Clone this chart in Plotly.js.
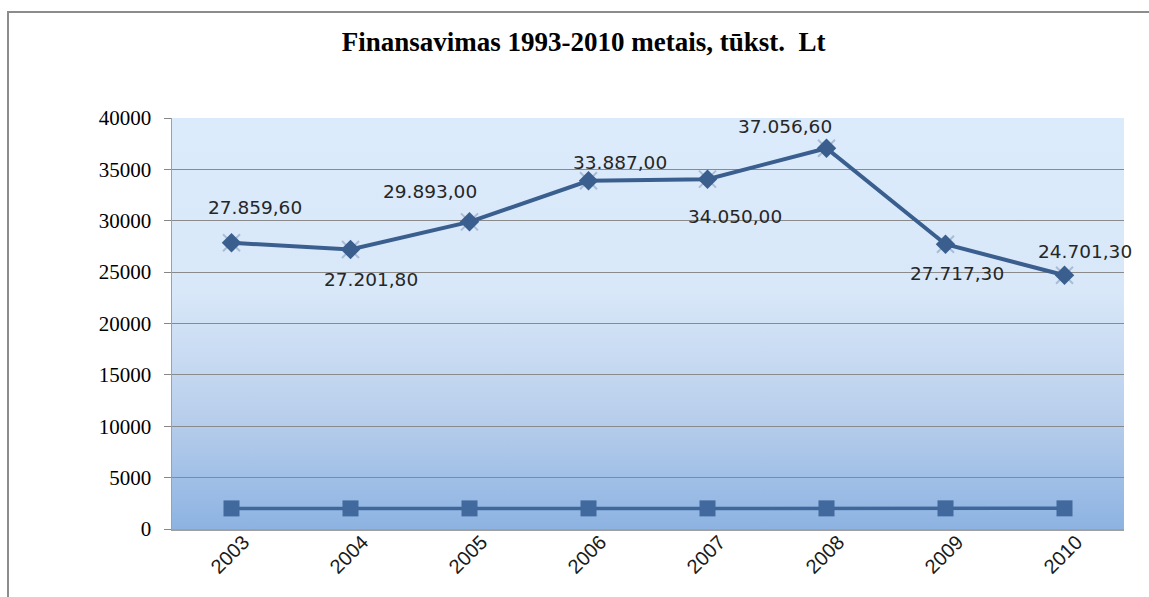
<!DOCTYPE html>
<html>
<head>
<meta charset="utf-8">
<script src="https://cdn.plot.ly/plotly-3.0.1.min.js"></script>
<style>
  html, body { margin: 0; padding: 0; background: #ffffff; }
  #bg { position: absolute; left: 172px; top: 118px; width: 952px; height: 411px;
        background: linear-gradient(to bottom, #dcebfb 0%, #d9e8f9 42%, #b9cfec 72%, #8db3e2 100%); }
  #chart { position: absolute; left: 0; top: 0; width: 1149px; height: 597px; }
  #frame { position: absolute; left: 7px; top: 11px; width: 1200px; height: 700px;
           border-left: 2px solid #8c8c8c; border-top: 2px solid #8c8c8c;
           pointer-events: none; z-index: 5; }
</style>
</head>
<body>
<div id="bg"></div>
<div id="chart"></div>
<div id="frame"></div>
<script>
// ---- data ----
const years = ['2003', '2004', '2005', '2006', '2007', '2008', '2009', '2010'];
const funding = [27859.6, 27201.8, 29893.0, 33887.0, 34050.0, 37056.6, 27717.3, 24701.3];
const fundingLabels = ['27.859,60', '27.201,80', '29.893,00', '33.887,00', '34.050,00', '37.056,60', '27.717,30', '24.701,30'];
const yearSeries = [2003, 2004, 2005, 2006, 2007, 2008, 2009, 2010];
const yTicks = [0, 5000, 10000, 15000, 20000, 25000, 30000, 35000, 40000];

// label offsets (px) – styling only
const labelShiftX = [23, 20, -40, 31, 27, -42, 11, 20];
const labelShiftY = [35, -30, 30, 18, -37, 22, -29, 24];

const traces = [
  {
    x: years, y: yearSeries, type: 'scatter', mode: 'lines+markers',
    line: { color: '#3f679b', width: 3.5 },
    marker: { symbol: 'square', size: 16, color: '#41699d' },
    hoverinfo: 'skip', showlegend: false
  },
  {
    x: years, y: funding, type: 'scatter', mode: 'markers',
    marker: { symbol: 'x-thin-open', size: 17, color: '#a9bcd6', line: { color: '#a9bcd6', width: 2 } },
    hoverinfo: 'skip', showlegend: false
  },
  {
    x: years, y: funding, type: 'scatter', mode: 'lines+markers',
    line: { color: '#3a5f8f', width: 4 },
    marker: { symbol: 'diamond', size: 15, color: '#3a5f8f' },
    hoverinfo: 'skip', showlegend: false
  }
];

const annotations = years.map((yr, i) => ({
  x: i, y: funding[i], xref: 'x', yref: 'y',
  text: fundingLabels[i], showarrow: false,
  xanchor: 'center', yanchor: 'middle',
  xshift: labelShiftX[i], yshift: labelShiftY[i],
  font: { family: 'DejaVu Sans', size: 18.5, color: '#262626' }
}));

const layout = {
  width: 1149, height: 597,
  margin: { l: 172, r: 25, t: 118, b: 68 },
  paper_bgcolor: 'rgba(0,0,0,0)',
  plot_bgcolor: 'rgba(0,0,0,0)',
  title: {
    text: '<b>Finansavimas 1993-2010 metais, tūkst.  Lt</b>',
    font: { family: 'Liberation Serif', size: 27, color: '#000000' },
    x: 0.508, xanchor: 'center', y: 0.93, yanchor: 'middle'
  },
  xaxis: {
    type: 'category', range: [-0.5, 7.5],
    tickangle: -45, ticks: '',
    ticklabelshift: 12, ticklabelstandoff: -8,
    tickfont: { family: 'Liberation Sans', size: 20, color: '#1a1a1a' },
    showline: true, linecolor: '#a0a0a0', linewidth: 1.5,
    showgrid: false, zeroline: false, fixedrange: true
  },
  yaxis: {
    range: [0, 40000], tickvals: yTicks,
    ticktext: yTicks.map(String),
    ticks: 'outside', ticklen: 7, tickcolor: '#868686', ticklabelstandoff: 8,
    tickfont: { family: 'Liberation Serif', size: 21, color: '#000000' },
    showline: true, linecolor: '#a0a0a0', linewidth: 1.5,
    showgrid: true, gridcolor: '#8a8a8a', gridwidth: 1,
    zeroline: false, fixedrange: true
  },
  annotations: annotations
};

Plotly.newPlot('chart', traces, layout, { staticPlot: true, displayModeBar: false });
</script>
</body>
</html>
